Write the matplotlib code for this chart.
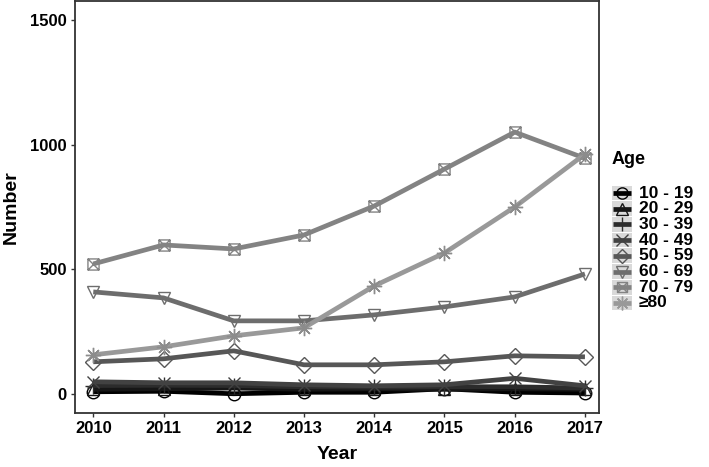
import numpy as np
import matplotlib
matplotlib.use("Agg")
import matplotlib.pyplot as plt
from matplotlib.path import Path
from matplotlib.lines import Line2D
from matplotlib.patches import Rectangle

plt.rcParams['font.family'] = ['Liberation Sans', 'DejaVu Sans']
plt.rcParams['font.weight'] = 'bold'

years = [2010, 2011, 2012, 2013, 2014, 2015, 2016, 2017]
ages = ["10 - 19", "20 - 29", "30 - 39", "40 - 49",
        "50 - 59", "60 - 69", "70 - 79", "\u226580"]
a10 = [10, 12, 2, 8, 8, 22, 8, 5]
a20 = [20, 22, 25, 20, 22, 20, 22, 20]
a30 = [35, 36, 35, 30, 28, 30, 30, 25]
a40 = [50, 46, 46, 38, 34, 38, 64, 34]
a50 = [130, 142, 174, 118, 118, 130, 154, 150]
a60 = [410, 386, 294, 294, 318, 350, 390, 482]
a70 = [522, 598, 582, 638, 754, 902, 1050, 945]
a80 = [158, 190, 234, 266, 434, 566, 750, 962]
series = [a10, a20, a30, a40, a50, a60, a70, a80]

# square with a cross (ggplot shape 7)
box_x = Path([(-1, -1), (1, -1), (1, 1), (-1, 1), (-1, -1),
              (-1, -1), (1, 1), (-1, 1), (1, -1)],
             [Path.MOVETO, Path.LINETO, Path.LINETO, Path.LINETO, Path.CLOSEPOLY,
              Path.MOVETO, Path.LINETO, Path.MOVETO, Path.LINETO])
markers = ['o', '^', '+', 'x', 'D', 'v', box_x, (8, 2, 0)]
msizes = [9, 9, 11, 9, 8, 9, 8, 11]
greys = [str(g) for g in np.linspace(0, 0.6, 8)]

W, H = 709, 467
fig = plt.figure(figsize=(W / 100, H / 100), dpi=100)
ax = fig.add_axes([75 / W, 1 - 413 / H, (599 - 75) / W, (413 - 1) / H])

for vals, m, ms, c in zip(series, markers, msizes, greys):
    ax.plot(years, vals, color=c, lw=3.4, solid_capstyle='butt')
    ax.plot(years, vals, ls='none', marker=m, ms=ms, mfc='none',
            mec=c if c != greys[-1] else '0.55', mew=1.0)

ax.set_xlim(2009.74, 2017.2)
ax.set_ylim(-75, 1575)
ax.set_xticks(years)
ax.set_yticks([0, 500, 1000, 1500])
ax.tick_params(length=3, width=1, color='#333333', labelsize=12, pad=3,
               labelcolor='black')
for lab in ax.get_xticklabels() + ax.get_yticklabels():
    lab.set_fontweight('bold')
for s in ax.spines.values():
    s.set_color('#333333')
    s.set_linewidth(1.3)
ax.set_xlabel("Year", fontsize=14, fontweight='bold', labelpad=7)
ax.set_ylabel("Number", fontsize=14, fontweight='bold', labelpad=7)

# legend drawn by hand, ggplot style with grey keys
kx, kw, kh = 612, 20, 15.7
y0 = 193
fig.text(kx / W, 1 - 160 / H, "Age", fontsize=13, fontweight='bold',
         va='center', ha='left')
for i, (lab, m, ms, c) in enumerate(zip(ages, markers, msizes, greys)):
    yc = y0 + i * kh
    fig.add_artist(Rectangle((kx / W, 1 - (yc + kh / 2 - 0.5) / H), kw / W,
                             (kh - 1) / H, transform=fig.transFigure,
                             facecolor='#d9d9d9', edgecolor='none'))
    fig.add_artist(Line2D([(kx + 1) / W, (kx + kw - 1) / W],
                          [1 - yc / H, 1 - yc / H], transform=fig.transFigure,
                          color=c, lw=3.4, solid_capstyle='butt'))
    fig.add_artist(Line2D([(kx + kw / 2) / W], [1 - yc / H], transform=fig.transFigure,
                          ls='none', marker=m, ms=ms * 0.9, mfc='none', mec=c, mew=1.0))
    fig.text((kx + kw + 7) / W, 1 - yc / H, lab, fontsize=12.5, fontweight='bold',
             va='center', ha='left')

fig.savefig("out.png", dpi=100)
